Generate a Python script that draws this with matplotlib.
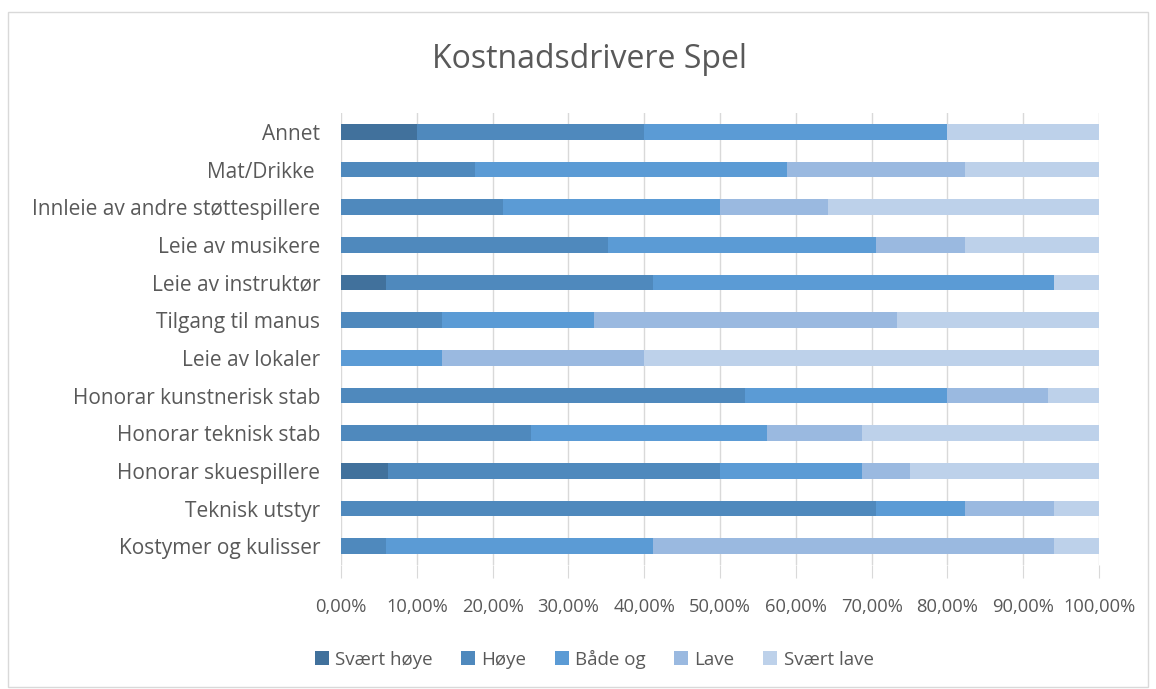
import numpy as np
import matplotlib.pyplot as plt
from matplotlib.ticker import FuncFormatter

categories = ['Kostymer og kulisser', 'Teknisk utstyr', 'Honorar skuespillere',
              'Honorar teknisk stab', 'Honorar kunstnerisk stab', 'Leie av lokaler',
              'Tilgang til manus', 'Leie av instruktør', 'Leie av musikere',
              'Innleie av andre støttespillere', 'Mat/Drikke ', 'Annet']

svaert_hoye = [0.0, 0.0, 6.25, 0.0, 0.0, 0.0, 0.0, 5.88, 0.0, 0.0, 0.0, 10.0]
hoye = [5.88, 70.59, 43.75, 25.0, 53.33, 0.0, 13.33, 35.29, 35.29, 21.43, 17.65, 30.0]
baade_og = [35.29, 11.76, 18.75, 31.25, 26.67, 13.33, 20.0, 52.94, 35.29, 28.57, 41.18, 40.0]
lave = [52.94, 11.76, 6.25, 12.5, 13.33, 26.67, 40.0, 0.0, 11.76, 14.29, 23.53, 0.0]
svaert_lave = [5.88, 5.88, 25.0, 31.25, 6.67, 60.0, 26.67, 5.88, 17.65, 35.71, 17.65, 20.0]

series = [('Svært høye', svaert_hoye, '#41719c'),
          ('Høye', hoye, '#4f89bd'),
          ('Både og', baade_og, '#5b9bd5'),
          ('Lave', lave, '#9ab9e0'),
          ('Svært lave', svaert_lave, '#bdd1ea')]

plt.rcParams['font.family'] = ['Open Sans', 'DejaVu Sans']
grey = '#595959'

fig = plt.figure(figsize=(11.56, 6.89), dpi=100)
ax = fig.add_axes([341 / 1156, 1 - 565 / 689, (1099 - 341) / 1156, (565 - 113) / 689])

y = np.arange(len(categories))
left = np.zeros(len(categories))
for name, vals, col in series:
    v = np.array(vals) / 100
    ax.barh(y, v, left=left, height=0.42, color=col, label=name, zorder=3)
    left += v

ax.set_xlim(0, 1)
ax.set_ylim(-0.5, len(categories) - 0.5)
ax.set_xticks(np.linspace(0, 1, 11))
ax.xaxis.set_major_formatter(FuncFormatter(lambda x, p: f'{x * 100:.2f}%'.replace('.', ',')))
ax.set_yticks(y)
ax.set_yticklabels(categories)
ax.grid(axis='x', color='#d9d9d9', linewidth=1, zorder=0)
for s in ax.spines.values():
    s.set_visible(False)
ax.tick_params(axis='x', length=9, color='#d9d9d9', labelcolor=grey, labelsize=13.2, pad=15)
ax.tick_params(axis='y', length=0, labelcolor=grey, labelsize=15, pad=15)

fig.text(590 / 1156, 1 - 60 / 689, 'Kostnadsdrivere Spel', ha='center', va='center',
         fontsize=23, color=grey)

handles, labels = ax.get_legend_handles_labels()
fig.legend(handles, labels, loc='center', bbox_to_anchor=(594 / 1156, 1 - 659 / 689), ncol=5,
           frameon=False, fontsize=13.5, labelcolor=grey, handlelength=0.75, handleheight=0.75,
           handletextpad=0.35, columnspacing=1.5)

fig.patches.append(plt.Rectangle((8 / 1156, 0.003), 1 - 16 / 1156, 1 - 14 / 689, transform=fig.transFigure,
                                 fill=False, edgecolor='#d9d9d9', linewidth=1))

fig.savefig('out.png', dpi=100)
